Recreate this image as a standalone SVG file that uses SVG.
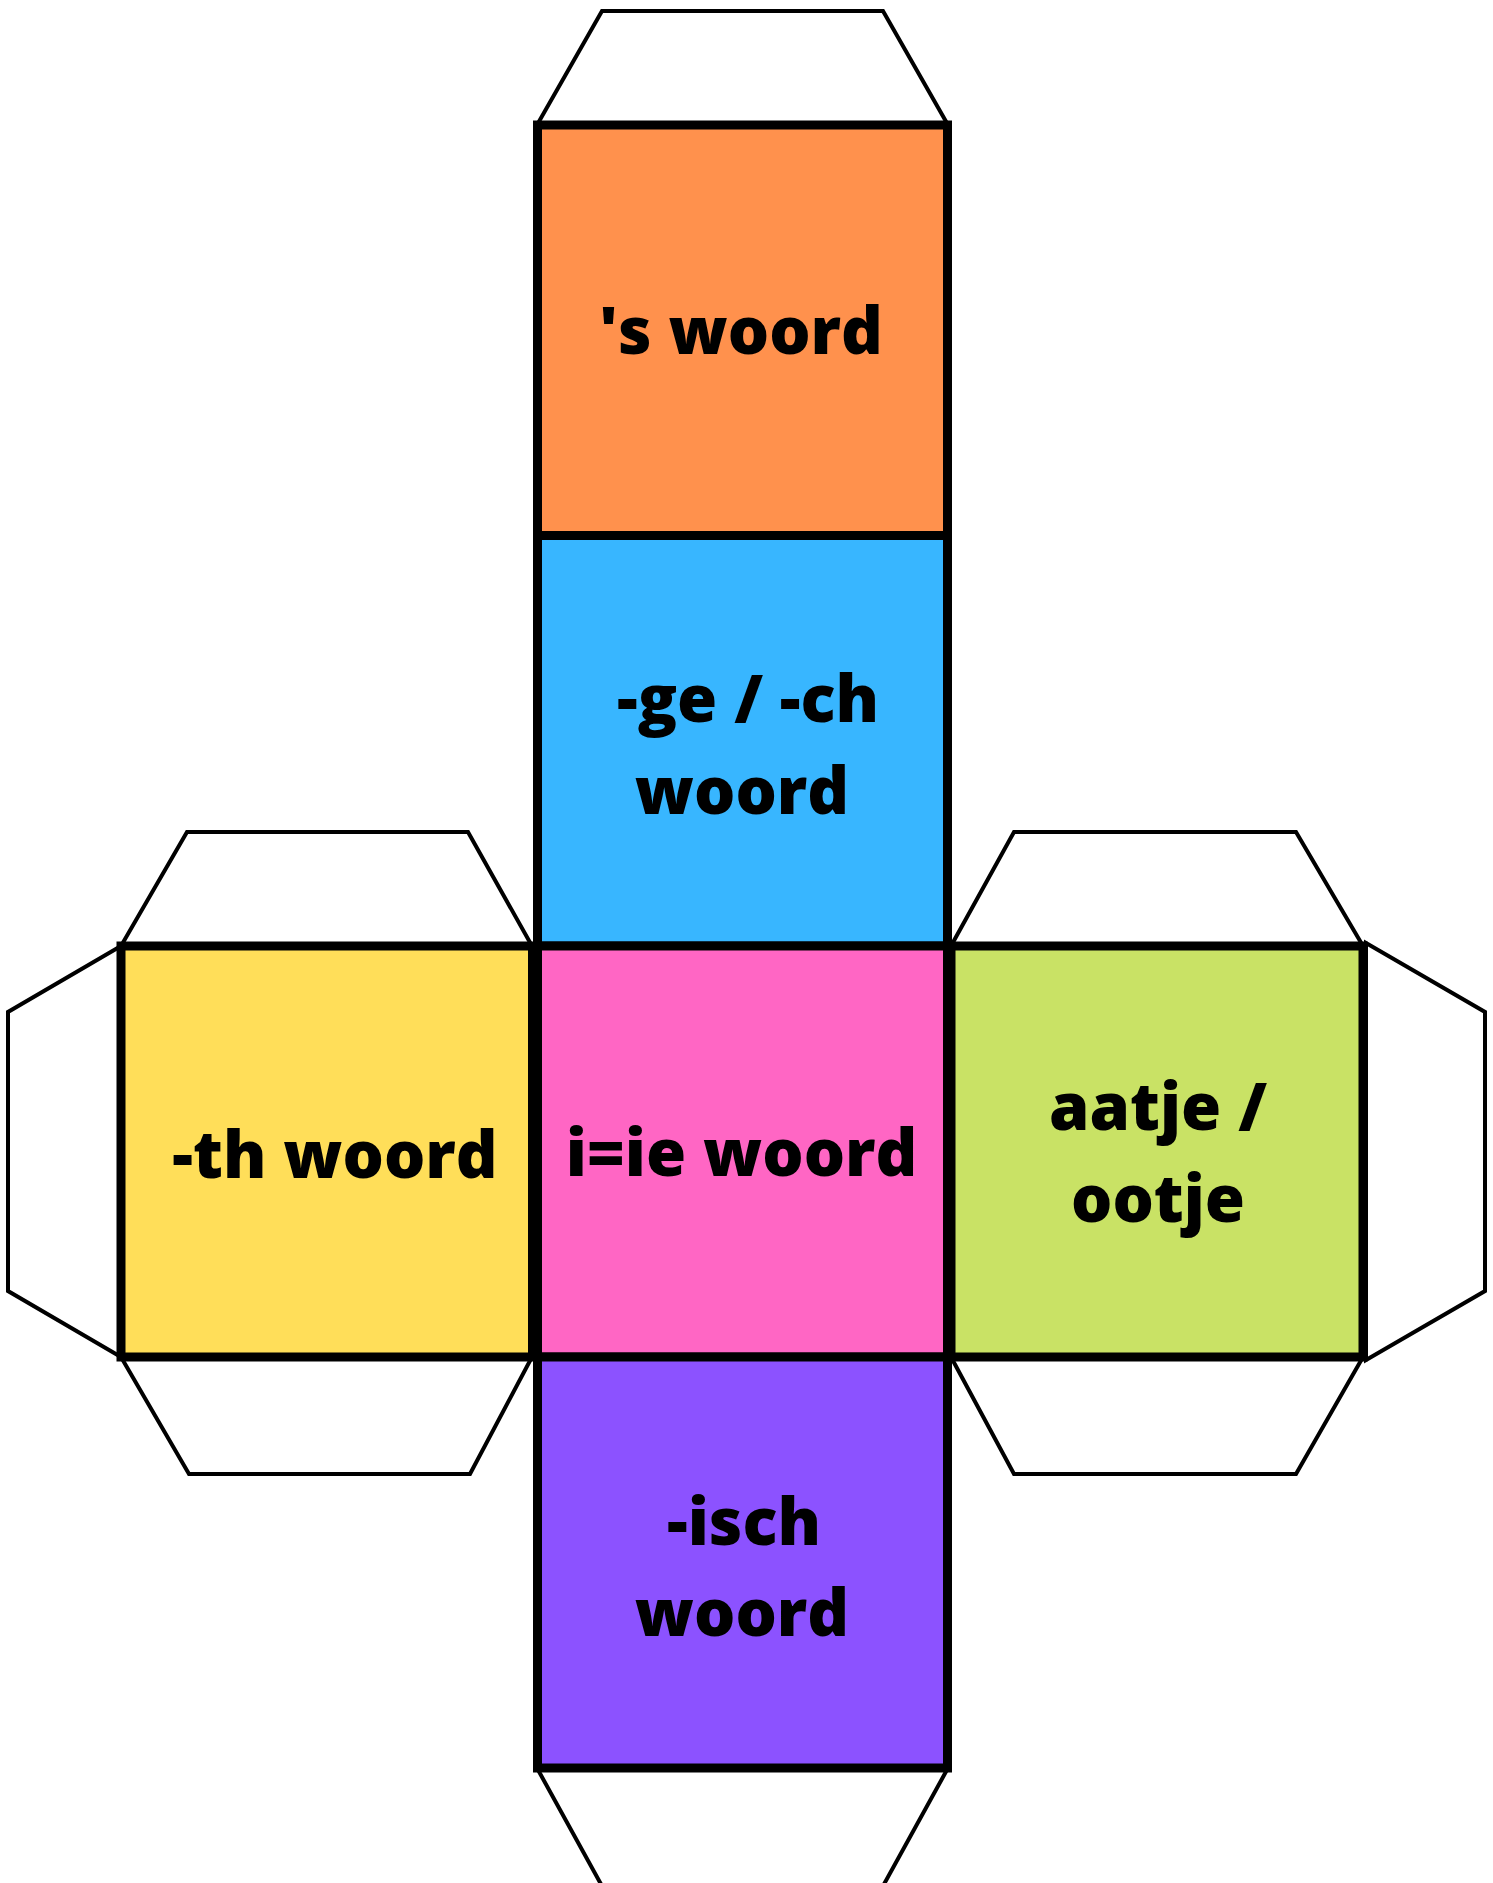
<svg xmlns="http://www.w3.org/2000/svg" width="1493" height="1883" viewBox="0 0 1493 1883">
<style>
.tab{fill:#ffffff;stroke:#000000;stroke-width:4;stroke-linejoin:miter}
.face{stroke:#000000;stroke-width:9}
.lbl{font-family:"Open Sans","Noto Sans","Liberation Sans",sans-serif;font-weight:800;font-size:65px;fill:#000000;text-anchor:middle}
</style>
<rect width="1493" height="1883" fill="#ffffff"/>
<g id="tabs">
<polygon class="tab" points="537,125 602,11 883,11 948,125"/>
<polygon class="tab" points="537,1768 602,1886 883,1886 948,1768"/>
<polygon class="tab" points="121,946 187,832 468,832 532,946"/>
<polygon class="tab" points="121,1357 189,1474 470,1474 532,1357"/>
<polygon class="tab" points="121,946 8,1012 8,1291 121,1357"/>
<polygon class="tab" points="951,946 1014,832 1296,832 1363,946"/>
<polygon class="tab" points="951,1357 1014,1474 1296,1474 1363,1357"/>
<polygon class="tab" points="1366,943 1485,1012 1485,1291 1366,1360"/>
</g>
<g id="connectors"></g>
<g id="face-s">
<rect class="face" x="537.5" y="125" width="410" height="410.5" fill="#FF914D"/>
<text class="lbl" x="741" y="354">'s woord</text>
</g>
<g id="face-ge">
<rect class="face" x="537.5" y="535.5" width="410" height="410.5" fill="#38B6FF"/>
<text class="lbl" x="748" y="722">-ge / -ch</text>
<text class="lbl" x="742" y="814">woord</text>
</g>
<g id="face-th">
<rect class="face" x="121" y="946" width="411.5" height="411" fill="#FFDE59"/>
<text class="lbl" x="335" y="1178">-th woord</text>
</g>
<g id="face-green">
<rect class="face" x="951" y="946" width="412" height="411" fill="#C9E265"/>
<text class="lbl" x="1158" y="1130">aatje /</text>
<text class="lbl" x="1158" y="1222">ootje</text>
</g>
<g id="face-ie">
<rect class="face" x="537.5" y="946" width="410" height="411" fill="#FF66C4"/>
<text class="lbl" x="741.5" y="1176">i=ie woord</text>
</g>
<g id="face-isch">
<rect class="face" x="537.5" y="1357" width="410" height="411" fill="#8C52FF"/>
<text class="lbl" x="744" y="1545">-isch</text>
<text class="lbl" x="742" y="1636">woord</text>
</g>
</svg>
